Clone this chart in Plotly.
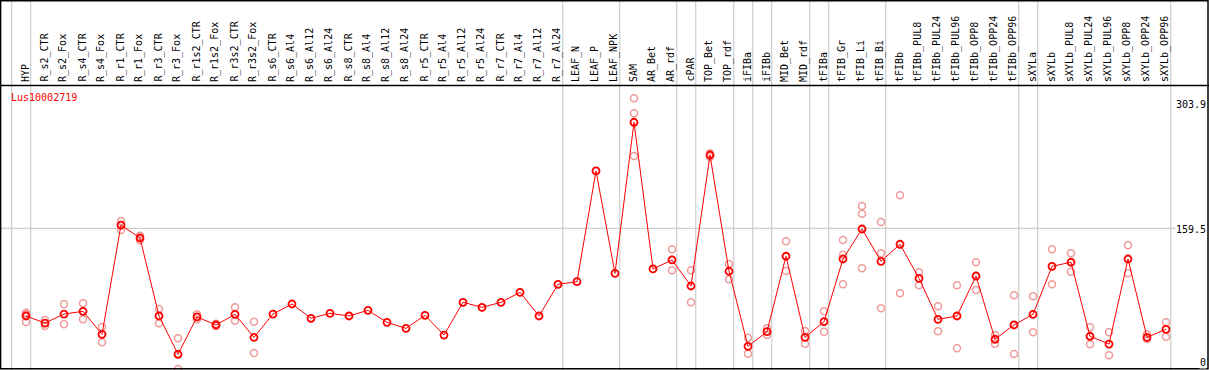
import plotly.graph_objects as go

categories = ["HYP", "R_s2_CTR", "R_s2_Fox", "R_s4_CTR", "R_s4_Fox", "R_r1_CTR", "R_r1_Fox",
              "R_r3_CTR", "R_r3_Fox", "R_r1s2_CTR", "R_r1s2_Fox", "R_r3s2_CTR", "R_r3s2_Fox",
              "R_s6_CTR", "R_s6_Al4", "R_s6_Al12", "R_s6_Al24", "R_s8_CTR", "R_s8_Al4", "R_s8_Al12",
              "R_s8_Al24", "R_r5_CTR", "R_r5_Al4", "R_r5_Al12", "R_r5_Al24", "R_r7_CTR", "R_r7_Al4",
              "R_r7_Al12", "R_r7_Al24", "LEAF_N", "LEAF_P", "LEAF_NPK", "SAM", "AR_Bet", "AR_rdf",
              "cPAR", "TOP_Bet", "TOP_rdf", "iFIBa", "iFIBb", "MID_Bet", "MID_rdf", "tFIBa",
              "tFIB_Gr", "tFIB_Li", "tFIB_Bi", "tFIBb", "tFIBb_PUL8", "tFIBb_PUL24", "tFIBb_PUL96",
              "tFIBb_OPP8", "tFIBb_OPP24", "tFIBb_OPP96", "sXYLa", "sXYLb", "sXYLb_PUL8",
              "sXYLb_PUL24", "sXYLb_PUL96", "sXYLb_OPP8", "sXYLb_OPP24", "sXYLb_OPP96"]

means = [60.1, 52.1, 62.3, 65.4, 39.3, 163.2, 148.5, 60.1, 16.7, 59.0, 49.9, 62.0, 35.9,
         62.3, 73.7, 57.5, 63.1, 60.1, 66.5, 52.9, 46.1, 60.9, 38.5, 75.6, 69.9, 75.6, 86.9,
         60.1, 96.0, 99.0, 224.5, 108.5, 279.7, 113.4, 123.6, 94.1, 242.6, 110.8, 25.7, 42.3,
         127.8, 35.9, 53.6, 124.7, 158.7, 122.1, 141.4, 102.8, 56.3, 60.1, 105.4, 33.7, 49.9,
         62.0, 116.4, 121.0, 37.1, 28.3, 124.7, 35.9, 45.0]

replicates = [
    [63.8, 62.0, 53.3], [55.5, 48.7], [73.3, 50.7], [74.5, 56.3], [47.6, 30.3],
    [167.8, 157.6], [151.1, 145.9], [68.0, 51.8], [34.8, 0.0], [62.0, 56.3],
    [51.4, 48.7], [69.9, 54.8], [53.6, 18.1],
    [], [], [], [], [], [], [], [], [], [], [], [], [], [], [], [],
    [], [], [],
    [306.9, 289.9, 241.5], [], [135.7, 111.9], [111.9, 75.6], [244.5, 240.7],
    [119.0, 101.7], [35.5, 17.3], [46.1, 38.5], [144.8, 111.1], [43.1, 28.7],
    [65.4, 42.3], [146.2, 129.6, 96.0], [184.8, 176.1, 114.2], [166.6, 131.2, 68.8],
    [196.9, 85.8], [109.6, 94.9], [71.1, 42.7], [94.9, 23.5], [121.0, 89.6],
    [38.5, 28.7], [83.5, 17.0], [82.4, 41.6], [135.7, 96.0], [131.2, 110.3],
    [47.3, 28.0], [41.6, 15.5], [140.2, 108.5], [39.3, 34.0], [52.9, 36.6],
]

group_ends = [-1, 0, 28, 31, 34, 35, 37, 38, 39, 41, 42, 45, 52, 53, 60]
gene_name = "Lus10002719"
y_ticks = [303.9, 159.5, 0]
y_tick_labels = ["303.9", "159.5", "0"]
ref_line = 159.5

W, H = 1209, 370
FONT = "DejaVu Sans Mono"

x_idx = list(range(len(categories)))
rep_x, rep_y = [], []
for i, reps in enumerate(replicates):
    for v in reps:
        rep_x.append(i)
        rep_y.append(v)

fig = go.Figure()
fig.add_trace(go.Scatter(
    x=rep_x, y=rep_y, mode="markers",
    marker=dict(symbol="circle-open", size=7, color="#f09a9a", line=dict(width=1.5)),
    hoverinfo="skip", cliponaxis=False))
fig.add_trace(go.Scatter(
    x=x_idx, y=means, mode="lines+markers",
    line=dict(color="#ff0000", width=1),
    marker=dict(symbol="circle-open", size=7, color="#ff0000", line=dict(width=1.8)),
    cliponaxis=False))

# pixel mapping: index i -> 26 + 19*i ; value v -> 369 - k*v
x0 = -26 / 19
x1 = (W - 26) / 19
k = 140.7 / 159.5
y_lo = (369 - H) / k
y_hi = 369 / k

shapes = []
for g in group_ends:
    shapes.append(dict(type="line", xref="x", yref="paper", x0=g + 0.25, x1=g + 0.25,
                       y0=0, y1=1, line=dict(color="#c4c4c4", width=1), layer="below"))
shapes.append(dict(type="line", xref="paper", yref="y", x0=0, x1=1178 / W, y0=ref_line, y1=ref_line,
                   line=dict(color="#c4c4c4", width=1), layer="below"))
hdr = 1 - 85.5 / H
shapes.append(dict(type="line", xref="paper", yref="paper", x0=0, x1=1, y0=hdr, y1=hdr,
                   line=dict(color="black", width=1.5)))
shapes.append(dict(type="rect", xref="paper", yref="paper", x0=0.6 / W, x1=1 - 1 / W,
                   y0=1.2 / H, y1=1 - 0.8 / H, line=dict(color="black", width=1.5)))

annotations = []
for i, c in enumerate(categories):
    annotations.append(dict(x=i, xref="x", y=1 - 84 / H, yref="paper", text=c, showarrow=False,
                            textangle=-90, xanchor="center", yanchor="bottom", xshift=-1,
                            font=dict(family=FONT, size=10, color="black")))
annotations.append(dict(x=9 / W, xref="paper", y=1 - 97.5 / H, yref="paper", text=gene_name,
                        showarrow=False, xanchor="left", yanchor="middle",
                        font=dict(family=FONT, size=10, color="#ff0000")))
shifts = [-4, -1.5, 7]
for v, t, s in zip(y_ticks, y_tick_labels, shifts):
    annotations.append(dict(x=1207 / W, xref="paper", y=v, yref="y", text=t, showarrow=False,
                            xanchor="right", yanchor="middle", yshift=s, bgcolor="white",
                            borderpad=0,
                            font=dict(family=FONT, size=10, color="black")))

fig.update_layout(
    width=W, height=H, margin=dict(l=0, r=0, t=0, b=0),
    paper_bgcolor="white", plot_bgcolor="white", showlegend=False,
    xaxis=dict(range=[x0, x1], visible=False, fixedrange=True),
    yaxis=dict(range=[y_lo, y_hi], visible=False, fixedrange=True),
    shapes=shapes, annotations=annotations,
)
fig.write_html("out.html", config={"displayModeBar": False},
               post_script="document.body.style.margin='0';document.body.style.overflow='hidden';")
